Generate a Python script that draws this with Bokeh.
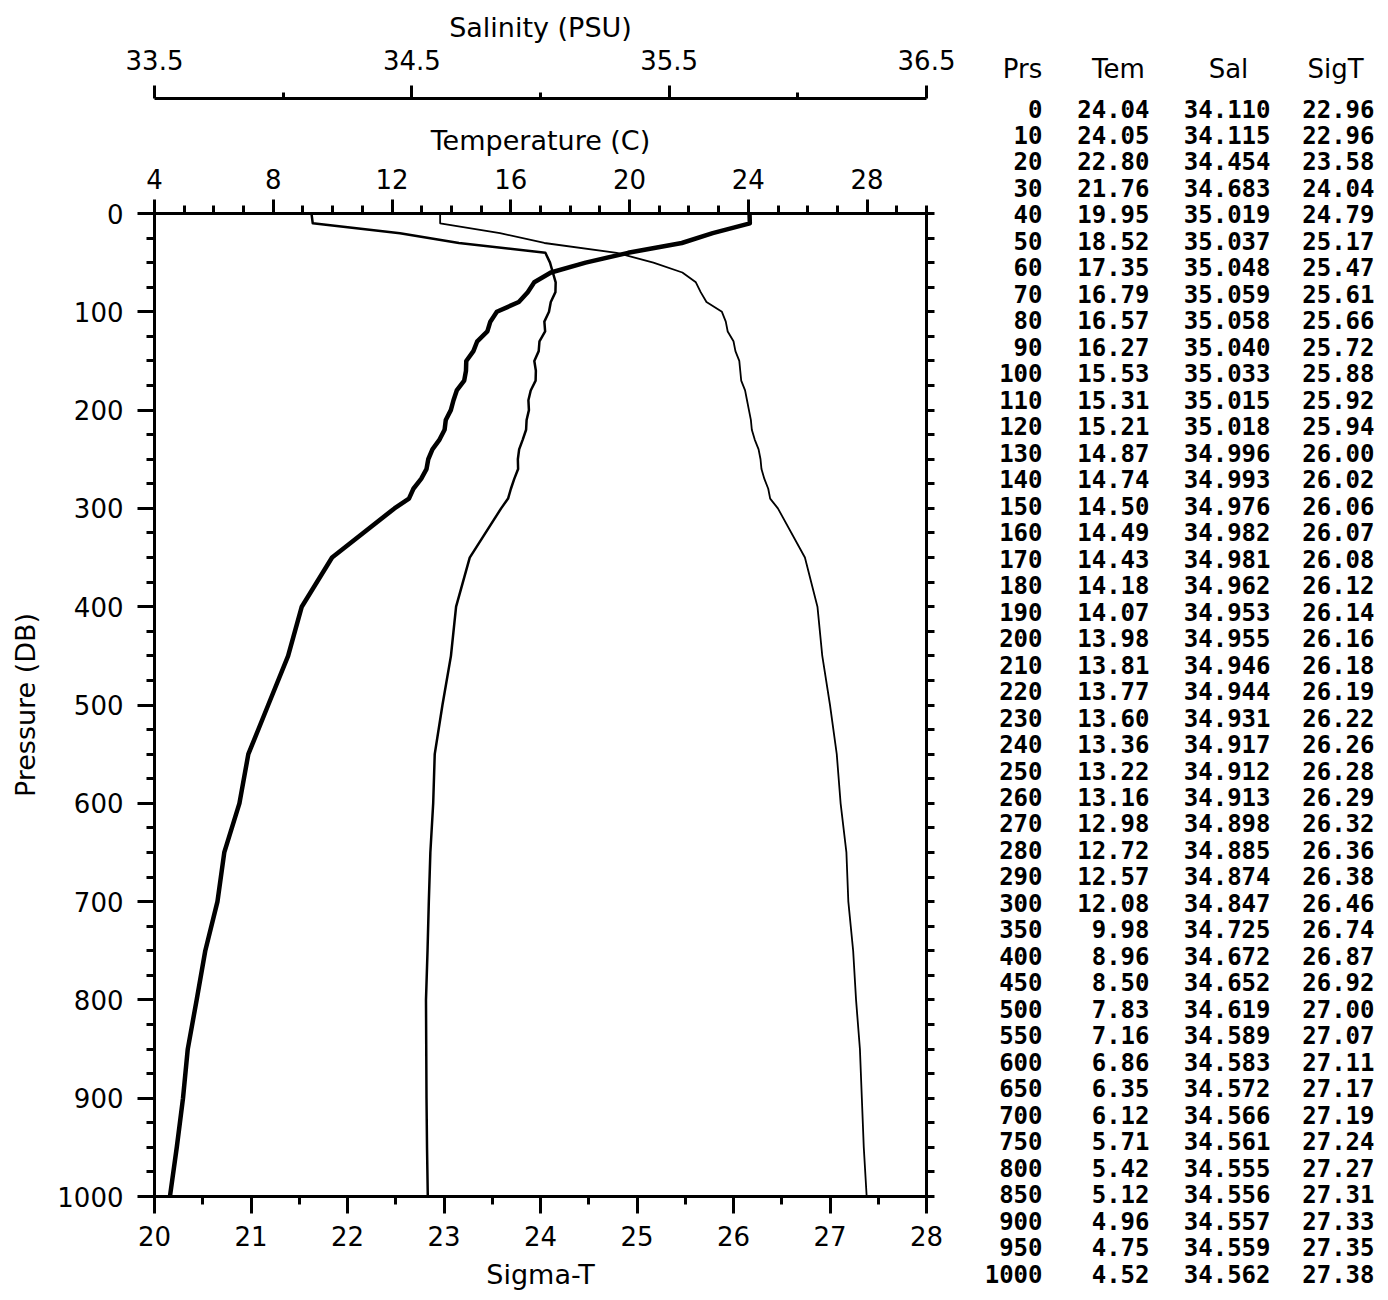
from bokeh.plotting import figure
from bokeh.models import (LinearAxis, Range1d, SingleIntervalTicker, FixedTicker,
                          ColumnDataSource, CustomJSTickFormatter, Title)
from bokeh.layouts import row, column
from bokeh.core.properties import value
from bokeh.embed import file_html
from bokeh.resources import INLINE

# ---------------- data (CTD station table) ----------------
prs = [0, 10, 20, 30, 40, 50, 60, 70, 80, 90, 100, 110, 120, 130, 140, 150,
       160, 170, 180, 190, 200, 210, 220, 230, 240, 250, 260, 270, 280, 290,
       300, 350, 400, 450, 500, 550, 600, 650, 700, 750, 800, 850, 900, 950, 1000]
tem = [24.04, 24.05, 22.80, 21.76, 19.95, 18.52, 17.35, 16.79, 16.57, 16.27,
       15.53, 15.31, 15.21, 14.87, 14.74, 14.50, 14.49, 14.43, 14.18, 14.07,
       13.98, 13.81, 13.77, 13.60, 13.36, 13.22, 13.16, 12.98, 12.72, 12.57,
       12.08, 9.98, 8.96, 8.50, 7.83, 7.16, 6.86, 6.35, 6.12, 5.71, 5.42,
       5.12, 4.96, 4.75, 4.52]
sal = [34.110, 34.115, 34.454, 34.683, 35.019, 35.037, 35.048, 35.059, 35.058,
       35.040, 35.033, 35.015, 35.018, 34.996, 34.993, 34.976, 34.982, 34.981,
       34.962, 34.953, 34.955, 34.946, 34.944, 34.931, 34.917, 34.912, 34.913,
       34.898, 34.885, 34.874, 34.847, 34.725, 34.672, 34.652, 34.619, 34.589,
       34.583, 34.572, 34.566, 34.561, 34.555, 34.556, 34.557, 34.559, 34.562]
sigt = [22.96, 22.96, 23.58, 24.04, 24.79, 25.17, 25.47, 25.61, 25.66, 25.72,
        25.88, 25.92, 25.94, 26.00, 26.02, 26.06, 26.07, 26.08, 26.12, 26.14,
        26.16, 26.18, 26.19, 26.22, 26.26, 26.28, 26.29, 26.32, 26.36, 26.38,
        26.46, 26.74, 26.87, 26.92, 27.00, 27.07, 27.11, 27.17, 27.19, 27.24,
        27.27, 27.31, 27.33, 27.35, 27.38]

table_headers = ["Prs", "Tem", "Sal", "SigT"]
sal_major_ticks = [33.5, 34.5, 35.5, 36.5]
sal_minor_ticks = [34.0, 35.0, 36.0]

SANS = "DejaVu Sans"
MONO = "DejaVu Sans Mono"

# ---------------- main profile plot ----------------
p = figure(width=960, height=1292, output_backend="svg", toolbar_location=None,
           x_range=Range1d(20, 28), y_range=Range1d(1000, 0),
           x_axis_type=None, y_axis_type=None,
           min_border_left=154, min_border_right=34,
           min_border_top=213, min_border_bottom=93)
p.outline_line_color = None
p.background_fill_color = "white"
p.border_fill_color = "white"
p.extra_x_ranges = {"temp": Range1d(4, 30), "sal": Range1d(33.5, 36.5)}


def style(ax, major_out, minor_out, label_size="26px"):
    ax.axis_line_width = 3
    ax.axis_line_color = "black"
    ax.major_tick_line_width = 3
    ax.minor_tick_line_width = 3
    ax.major_tick_line_color = "black"
    ax.minor_tick_line_color = "black"
    ax.major_tick_in = 0
    ax.minor_tick_in = 0
    ax.major_tick_out = major_out
    ax.minor_tick_out = minor_out
    ax.major_label_text_font = SANS
    ax.major_label_text_font_size = label_size
    ax.major_label_text_color = "black"
    ax.axis_label_text_font = SANS
    ax.axis_label_text_font_size = "27px"
    ax.axis_label_text_font_style = "normal"
    ax.axis_label_text_color = "black"


ax_b = LinearAxis(ticker=SingleIntervalTicker(interval=1, num_minor_ticks=2),
                  axis_label="Sigma-T")
style(ax_b, 17, 8)
ax_b.major_label_standoff = 12
ax_b.axis_label_standoff = 10
p.add_layout(ax_b, "below")

ax_l = LinearAxis(ticker=SingleIntervalTicker(interval=100, num_minor_ticks=4),
                  axis_label="Pressure (DB)")
style(ax_l, 17, 8)
ax_l.major_label_standoff = 14
ax_l.axis_label_standoff = 13
p.add_layout(ax_l, "left")

ax_r = LinearAxis(ticker=SingleIntervalTicker(interval=25, num_minor_ticks=0),
                  formatter=CustomJSTickFormatter(code="return ''"))
style(ax_r, 8, 0, label_size="0px")
ax_r.major_label_standoff = 0
p.add_layout(ax_r, "right")

ax_t = LinearAxis(x_range_name="temp",
                  ticker=SingleIntervalTicker(interval=4, num_minor_ticks=4),
                  axis_label="Temperature (C)")
style(ax_t, 14, 8)
ax_t.major_label_standoff = 11
ax_t.axis_label_standoff = 10
p.add_layout(ax_t, "above")

# empty spacer between the temperature and the salinity axes
p.add_layout(Title(text=" ", text_font_size="10px", standoff=10), "above")

ax_s = LinearAxis(x_range_name="sal",
                  ticker=FixedTicker(ticks=sal_major_ticks, minor_ticks=sal_minor_ticks),
                  axis_label="Salinity (PSU)")
style(ax_s, 13, 6)
ax_s.major_label_standoff = 16
ax_s.axis_label_standoff = 4
p.add_layout(ax_s, "above")

src = ColumnDataSource(dict(prs=prs, tem=tem, sal=sal, sigt=sigt))
p.line("tem", "prs", source=src, x_range_name="temp", line_width=4.5,
       line_color="black", line_join="round")
p.line("sal", "prs", source=src, x_range_name="sal", line_width=2.5,
       line_color="black", line_join="round")
p.line("sigt", "prs", source=src, line_width=1.8,
       line_color="black", line_join="round")

# ---------------- data table ----------------
t = figure(width=420, height=1292, output_backend="svg", toolbar_location=None,
           x_range=Range1d(960, 1380), y_range=Range1d(44.713, -4.079),
           x_axis_type=None, y_axis_type=None, min_border=0,
           min_border_left=0, min_border_right=0,
           min_border_top=0, min_border_bottom=0)
t.outline_line_color = None
t.background_fill_color = "white"
t.border_fill_color = "white"

tsrc = ColumnDataSource(dict(
    r=list(range(len(prs))),
    prs_s=[str(v) for v in prs],
    tem_s=[f"{v:.2f}" for v in tem],
    sal_s=[f"{v:.3f}" for v in sal],
    sigt_s=[f"{v:.2f}" for v in sigt],
))
for col, xr in [("prs_s", 1042), ("tem_s", 1149), ("sal_s", 1270), ("sigt_s", 1374)]:
    t.text(x=xr, y="r", text=col, source=tsrc, text_align="right",
           text_baseline="middle", text_font=value(MONO),
           text_font_size="24px", text_font_style="bold", text_color="black")

hsrc = ColumnDataSource(dict(x=[1022, 1118, 1228, 1335], y=[-1.51] * 4,
                             text=table_headers))
t.text(x="x", y="y", text="text", source=hsrc, text_align="center",
       text_baseline="middle", text_font=value(SANS), text_font_size="26px",
       text_color="black")

layout = row(p, column(t))
open("out.html", "w").write(file_html(layout, INLINE))
